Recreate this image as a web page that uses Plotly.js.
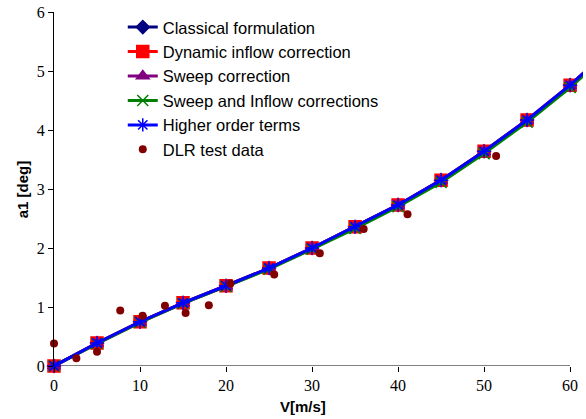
<!DOCTYPE html>
<html>
<head>
<meta charset="utf-8">
<script src="https://cdn.plot.ly/plotly-3.0.1.min.js"></script>
<style>
  html, body { margin: 0; padding: 0; background: #fff; }
  #chart { width: 586px; height: 419px; }
</style>
</head>
<body>
<div id="chart"></div>
<script>
// Rotor flapping angle a1 versus flight speed V
const speed = [0, 5, 10, 15, 20, 25, 30, 35, 40, 45, 50, 55, 60, 65];

const classical      = [0, 0.39, 0.75, 1.07, 1.36, 1.66, 2.00, 2.36, 2.73, 3.15, 3.64, 4.17, 4.76, 5.42];
const dynamicInflow  = [0, 0.39, 0.75, 1.07, 1.36, 1.66, 2.00, 2.36, 2.73, 3.15, 3.64, 4.17, 4.76, 5.42];
const sweep          = [0, 0.38, 0.74, 1.06, 1.35, 1.65, 1.99, 2.35, 2.72, 3.14, 3.63, 4.16, 4.75, 5.41];
const sweepInflow    = [0, 0.38, 0.74, 1.06, 1.35, 1.64, 1.98, 2.33, 2.70, 3.11, 3.60, 4.13, 4.72, 5.37];
const higherOrder    = [0, 0.39, 0.75, 1.07, 1.36, 1.66, 2.00, 2.36, 2.73, 3.15, 3.64, 4.17, 4.76, 5.42];

const dlrSpeed = [0, 2.6, 5.0, 7.7, 10.3, 12.9, 15.3, 18.0, 20.5, 25.6, 30.9, 36.0, 41.1, 51.4];
const dlrA1    = [0.38, 0.13, 0.24, 0.94, 0.85, 1.02, 0.90, 1.03, 1.40, 1.55, 1.91, 2.32, 2.57, 3.56];

const xTicks = [0, 10, 20, 30, 40, 50, 60];
const yTicks = [0, 1, 2, 3, 4, 5, 6];

function model(name, ys, color, symbol, size) {
  return {
    type: 'scatter', mode: 'lines+markers', name: name,
    x: speed, y: ys, cliponaxis: false,
    line: { color: color, width: 3 },
    marker: { color: color, symbol: symbol, size: size, line: { color: color, width: 1.5 } }
  };
}

const traces = [
  model('Classical formulation', classical, '#000080', 'diamond', 10),
  model('Dynamic inflow correction', dynamicInflow, '#FF0000', 'square', 12),
  model('Sweep correction', sweep, '#800080', 'triangle-up', 11),
  model('Sweep and Inflow corrections', sweepInflow, '#008000', 'x-thin', 11),
  model('Higher order terms', higherOrder, '#0000FF', 'asterisk', 11),
  {
    type: 'scatter', mode: 'markers', name: 'DLR test data',
    x: dlrSpeed, y: dlrA1, cliponaxis: false,
    marker: { color: '#800000', symbol: 'circle', size: 8 }
  }
];

const tickFont = { family: '"Liberation Serif", "Times New Roman", serif', size: 16, color: '#000' };
const titleFont = { family: '"Liberation Sans", Arial, sans-serif', size: 15, color: '#000' };

const layout = {
  width: 586, height: 419,
  margin: { l: 54, r: 3, t: 12, b: 53 },
  paper_bgcolor: '#fff', plot_bgcolor: '#fff',
  showlegend: true,
  legend: {
    x: 0.13, y: 1.006, xanchor: 'left', yanchor: 'top',
    bgcolor: 'rgba(0,0,0,0)',
    font: { family: '"Liberation Sans", Arial, sans-serif', size: 16.5, color: '#000' },
    tracegroupgap: 0
  },
  xaxis: {
    range: [0, 61.5],
    tickvals: xTicks, ticktext: xTicks.map(String),
    ticks: 'outside', ticklen: 5, tickcolor: '#000', tickwidth: 1,
    showgrid: false, zeroline: false, showline: false,
    tickfont: tickFont
  },
  yaxis: {
    range: [0, 6],
    tickvals: yTicks, ticktext: yTicks.map(String),
    ticks: 'outside', ticklen: 5, tickcolor: '#000', tickwidth: 1,
    showgrid: false, zeroline: false, showline: true, linecolor: '#000', linewidth: 1,
    tickfont: tickFont
  },
  shapes: [
    { type: 'line', xref: 'x', yref: 'y', x0: 0, x1: 60, y0: 0, y1: 0,
      line: { color: '#000', width: 1 }, layer: 'below' }
  ],
  annotations: [
    { text: '<b>V[m/s]</b>', xref: 'paper', yref: 'paper', x: (303 - 54) / 529, y: -0.115,
      xanchor: 'center', yanchor: 'middle', showarrow: false, font: titleFont },
    { text: '<b>a1 [deg]</b>', xref: 'paper', yref: 'paper', x: -0.06, y: 0.5,
      xanchor: 'center', yanchor: 'middle', textangle: -90, showarrow: false, font: titleFont }
  ]
};

Plotly.newPlot('chart', traces, layout, { staticPlot: true, displayModeBar: false });
</script>
</body>
</html>
